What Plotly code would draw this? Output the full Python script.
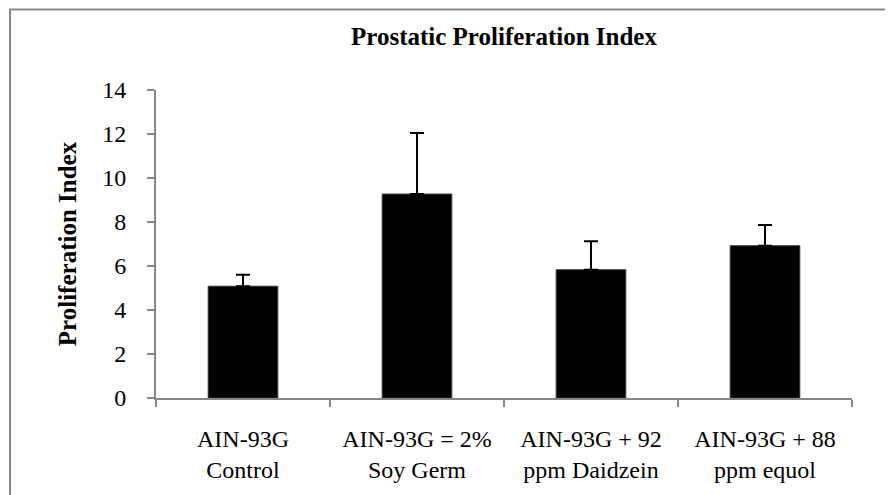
import plotly.graph_objects as go

categories = ["AIN-93G<br>Control", "AIN-93G = 2%<br>Soy Germ",
              "AIN-93G + 92<br>ppm Daidzein", "AIN-93G + 88<br>ppm equol"]
values = [5.08, 9.27, 5.83, 6.92]
errors = [0.52, 2.77, 1.29, 0.94]
y_ticks = [0, 2, 4, 6, 8, 10, 12, 14]

FONT = "Liberation Serif"
AXIS_COLOR = "#868686"

# the page body has an 8px margin, so the figure is offset by 8px
W, H = 885, 487
L, T = 148, 82
PW, PH = 696, 310

fig = go.Figure()
fig.add_trace(go.Bar(
    x=categories, y=values, width=0.4,
    marker=dict(color="black", line=dict(color="#333333", width=1)),
    error_y=dict(type="data", array=errors, symmetric=False, arrayminus=[0]*4,
                 color="black", thickness=2, width=7),
))

fig.update_layout(
    width=W, height=H,
    margin=dict(l=L, r=W - L - PW, t=T, b=H - T - PH),
    paper_bgcolor="white", plot_bgcolor="white",
    showlegend=False,
    font=dict(family=FONT, color="black", size=24),
    title=dict(text="<b>Prostatic Proliferation Index</b>", x=0.5, xref="paper",
               xanchor="center", y=1 - 28/H, yref="container", yanchor="middle",
               font=dict(family=FONT, size=25, color="black")),
    xaxis=dict(showline=True, linecolor=AXIS_COLOR, linewidth=2,
               ticks="outside", tickson="boundaries", ticklen=7, tickcolor=AXIS_COLOR,
               tickwidth=2, showgrid=False, range=[-0.5, 3.5], ticklabelstandoff=18,
               tickfont=dict(family=FONT, size=24, color="black")),
    yaxis=dict(showline=True, linecolor=AXIS_COLOR, linewidth=2,
               ticks="outside", ticklen=7, tickcolor=AXIS_COLOR, tickwidth=2,
               showgrid=False, zeroline=False, range=[0, 14], ticklabelstandoff=16,
               tickvals=y_ticks, ticktext=[str(t) for t in y_ticks],
               tickfont=dict(family=FONT, size=24, color="black"),
               title=dict(text="<b>Proliferation Index</b>", standoff=18,
                          font=dict(family=FONT, size=25, color="black"))),
)

# outer frame (only top and left edges visible in the original crop)
fig.add_shape(type="rect", xref="paper", yref="paper",
              x0=(2 - L) / PW, x1=2, y0=-1, y1=(T + PH - 1) / PH,
              line=dict(color="#878787", width=2), fillcolor="rgba(0,0,0,0)",
              layer="below")

fig.write_html("out.html")
